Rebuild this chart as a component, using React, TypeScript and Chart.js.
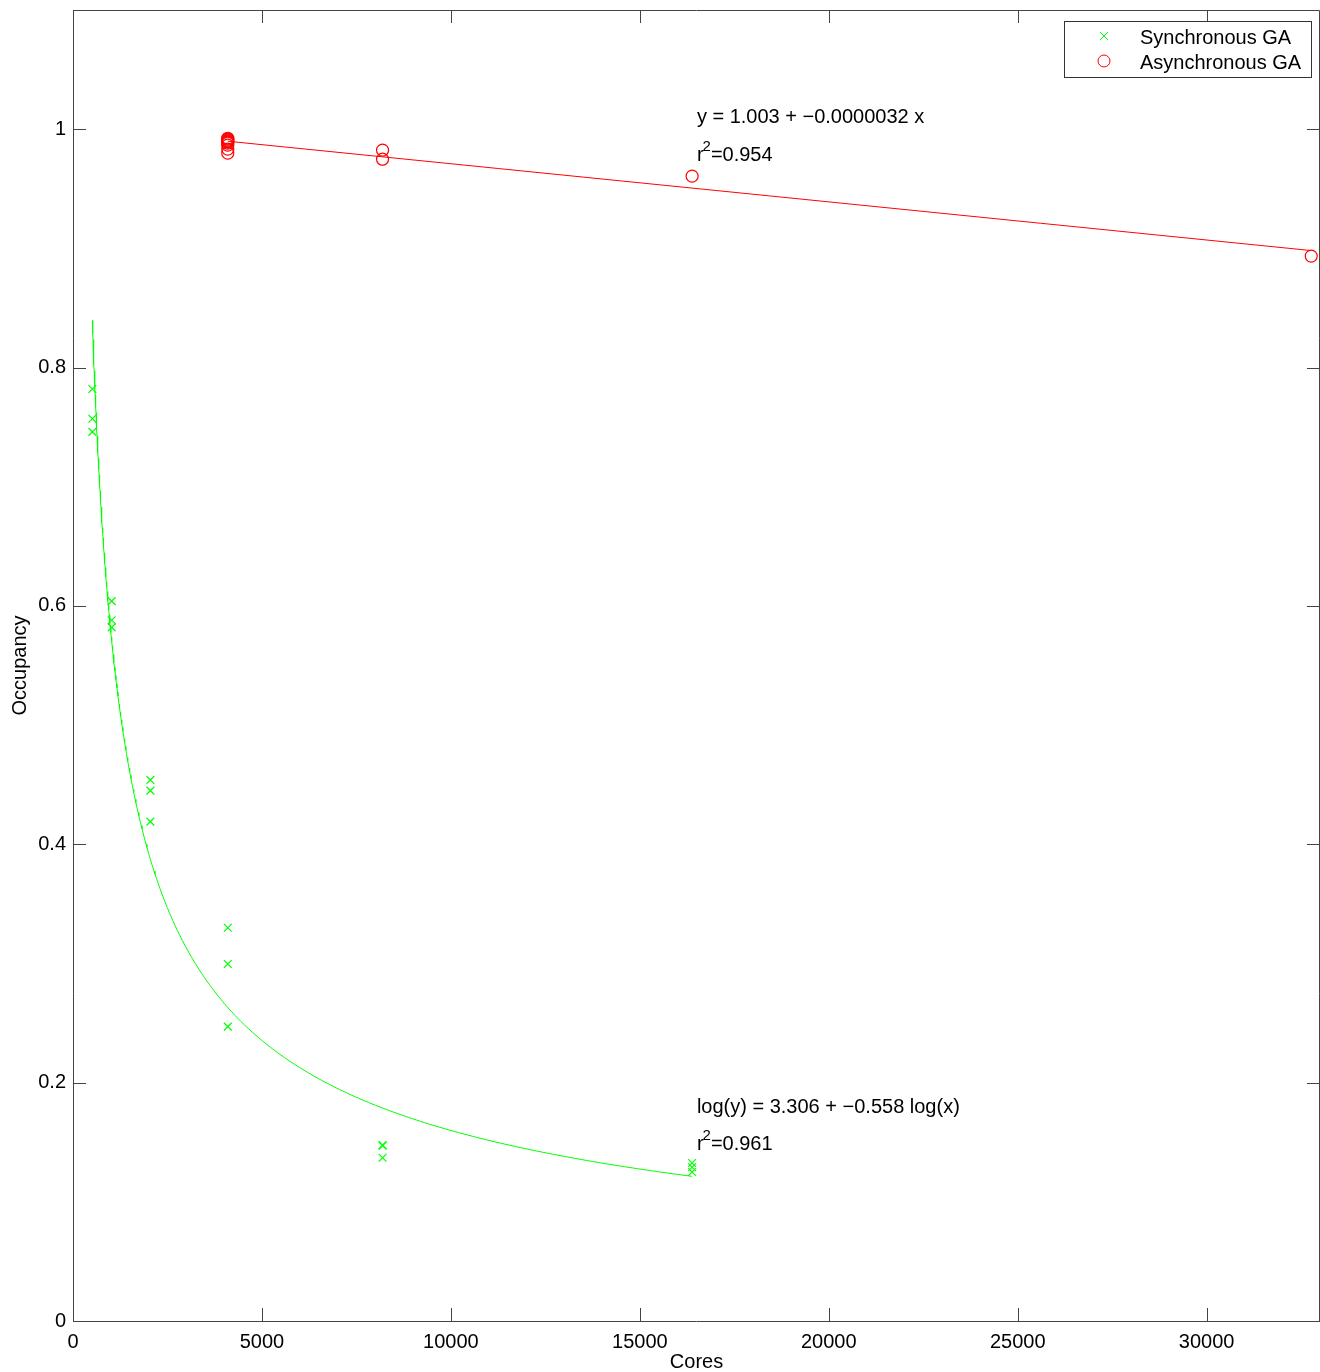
import React, { useEffect, useRef } from "react";
import { Chart, registerables } from "chart.js";

Chart.register(...registerables);

// ---- Data ----
const syncCores = [512, 512, 512, 1024, 1024, 1024, 2048, 2048, 2048, 4096, 4096, 4096, 8192, 8192, 8192, 16384, 16384, 16384];
const syncOccupancy = [0.782, 0.757, 0.746, 0.604, 0.588, 0.582, 0.454, 0.445, 0.419, 0.33, 0.2995, 0.247, 0.1477, 0.147, 0.137, 0.1326, 0.129, 0.125];

const asyncCores = [4096, 4096, 4096, 4096, 4096, 4096, 4096, 4096, 4096, 8192, 8192, 16384, 32768];
const asyncOccupancy = [0.9924, 0.9916, 0.9908, 0.9899, 0.9891, 0.9883, 0.9866, 0.9832, 0.9799, 0.9824, 0.9748, 0.9606, 0.8935];

// Fits printed on the chart
const syncFit = { a: 3.306, b: -0.558, xFrom: 512, xTo: 16384 }; // log(y) = a + b log(x)
const asyncFit = { a: 1.003, b: -0.0000032, xFrom: 4096, xTo: 32768 }; // y = a + b x

const xTicks = [0, 5000, 10000, 15000, 20000, 25000, 30000];
const yTicks = [0, 0.2, 0.4, 0.6, 0.8, 1];
const xMax = 33000;
const yMax = 1.1;

const seriesNames = ["Synchronous GA", "Asynchronous GA"];
const fitTexts = [
  { eq: "y = 1.003 + \u22120.0000032 x", r2: "=0.954", xAt: 16510, yEq: 1.01, yR2: 0.978 },
  { eq: "log(y) = 3.306 + \u22120.558 log(x)", r2: "=0.961", xAt: 16510, yEq: 0.1795, yR2: 0.148 },
];

const GREEN = "#00ff00";
const RED = "#ff0000";
const FONT = "'Liberation Sans', Arial, Helvetica, sans-serif";
const FS = 20;

function buildSyncCurve() {
  const pts: { x: number; y: number }[] = [];
  const n = 300;
  for (let i = 0; i <= n; i++) {
    const lx = Math.log(syncFit.xFrom) + (Math.log(syncFit.xTo) - Math.log(syncFit.xFrom)) * (i / n);
    const x = Math.exp(lx);
    pts.push({ x, y: Math.exp(syncFit.a + syncFit.b * Math.log(x)) });
  }
  return pts;
}

function buildAsyncLine() {
  return [asyncFit.xFrom, asyncFit.xTo].map((x) => ({ x, y: asyncFit.a + asyncFit.b * x }));
}

function zeroPad(s: any) {
  s.paddingLeft = 0;
  s.paddingRight = 0;
  s.paddingTop = 0;
  s.paddingBottom = 0;
}

const framePlugin = {
  id: "framePlugin",
  afterDraw(chart: any) {
    const { ctx, chartArea } = chart;
    const { left, right, top, bottom } = chartArea;
    const xs = chart.scales.x;
    const ys = chart.scales.y;
    ctx.save();
    // box
    ctx.strokeStyle = "#444";
    ctx.lineWidth = 1;
    ctx.beginPath();
    ctx.rect(Math.round(left) + 0.5, Math.round(top) + 0.5, Math.round(right - left) - 1, Math.round(bottom - top));
    ctx.stroke();
    // ticks inward
    const tl = 13;
    ctx.beginPath();
    xTicks.forEach((v) => {
      const px = Math.round(xs.getPixelForValue(v)) + 0.5;
      ctx.moveTo(px, bottom);
      ctx.lineTo(px, bottom - tl);
      ctx.moveTo(px, top);
      ctx.lineTo(px, top + tl);
    });
    yTicks.forEach((v) => {
      const py = Math.round(ys.getPixelForValue(v)) + 0.5;
      ctx.moveTo(left, py);
      ctx.lineTo(left + tl, py);
      ctx.moveTo(right, py);
      ctx.lineTo(right - tl, py);
    });
    ctx.stroke();

    // annotations
    ctx.fillStyle = "#000";
    ctx.textBaseline = "middle";
    ctx.textAlign = "left";
    fitTexts.forEach((t) => {
      const x = xs.getPixelForValue(t.xAt);
      ctx.font = `${FS}px ${FONT}`;
      ctx.fillText(t.eq, x, ys.getPixelForValue(t.yEq));
      const yr = ys.getPixelForValue(t.yR2);
      ctx.fillText("r", x, yr);
      const rw = ctx.measureText("r").width;
      ctx.font = `15px ${FONT}`;
      ctx.fillText("2", x + rw - 1, yr - 9);
      const sw = ctx.measureText("2").width;
      ctx.font = `${FS}px ${FONT}`;
      ctx.fillText(t.r2, x + rw + sw - 1, yr);
    });

    // legend
    const lx = 1064, ly = 21, lw = 247, lh = 56;
    ctx.fillStyle = "#fff";
    ctx.fillRect(lx, ly, lw, lh);
    ctx.strokeStyle = "#333";
    ctx.strokeRect(lx + 0.5, ly + 0.5, lw, lh);
    ctx.strokeStyle = GREEN;
    ctx.lineWidth = 1;
    const mx = 1104;
    const m1 = 36, m2 = 61;
    ctx.beginPath();
    ctx.moveTo(mx - 4, m1 - 4);
    ctx.lineTo(mx + 4, m1 + 4);
    ctx.moveTo(mx + 4, m1 - 4);
    ctx.lineTo(mx - 4, m1 + 4);
    ctx.stroke();
    ctx.strokeStyle = RED;
    ctx.beginPath();
    ctx.arc(mx, m2, 6, 0, Math.PI * 2);
    ctx.stroke();
    ctx.fillStyle = "#000";
    ctx.font = `${FS}px ${FONT}`;
    ctx.fillText(seriesNames[0], 1140, 38);
    ctx.fillText(seriesNames[1], 1140, 63);
    ctx.restore();
  },
};

export default function App() {
  const ref = useRef<HTMLCanvasElement | null>(null);
  useEffect(() => {
    document.body.style.margin = "0";
    const canvas = ref.current;
    if (!canvas) return;
    const chart = new Chart(canvas, {
      type: "scatter",
      data: {
        datasets: [
          {
            label: "sync fit",
            data: buildSyncCurve(),
            showLine: true,
            borderColor: GREEN,
            borderWidth: 1,
            pointRadius: 0,
            fill: false,
          },
          {
            label: "async fit",
            data: buildAsyncLine(),
            showLine: true,
            borderColor: RED,
            borderWidth: 1,
            pointRadius: 0,
            fill: false,
          },
          {
            label: seriesNames[0],
            data: syncCores.map((x, i) => ({ x, y: syncOccupancy[i] })),
            pointStyle: "crossRot",
            pointRadius: 5.5,
            pointBorderColor: GREEN,
            pointBorderWidth: 1.2,
            backgroundColor: GREEN,
            borderColor: GREEN,
          },
          {
            label: seriesNames[1],
            data: asyncCores.map((x, i) => ({ x, y: asyncOccupancy[i] })),
            pointStyle: "circle",
            pointRadius: 6,
            pointBorderColor: RED,
            pointBorderWidth: 1.2,
            pointBackgroundColor: "rgba(0,0,0,0)",
            borderColor: RED,
          },
        ],
      },
      options: {
        responsive: false,
        animation: false,
        events: [],
        layout: { autoPadding: false, padding: { top: 10, right: 0, left: 0, bottom: 0 } },
        plugins: { legend: { display: false }, tooltip: { enabled: false } },
        scales: {
          x: {
            type: "linear",
            min: 0,
            max: xMax,
            grid: { display: false, drawTicks: false },
            border: { display: false },
            afterBuildTicks: (s: any) => {
              s.ticks = xTicks.map((v) => ({ value: v }));
            },
            afterFit: (s: any) => {
              s.height = 51;
              zeroPad(s);
            },
            ticks: {
              padding: 9,
              color: "#000",
              font: { family: FONT, size: FS },
              maxRotation: 0,
              autoSkip: false,
              callback: (v: any) => String(v),
            },
            title: {
              display: true,
              text: "Cores",
              color: "#000",
              font: { family: FONT, size: FS },
              padding: { top: 0, bottom: -2 },
            },
          },
          y: {
            type: "linear",
            min: 0,
            max: yMax,
            grid: { display: false, drawTicks: false },
            border: { display: false },
            afterBuildTicks: (s: any) => {
              s.ticks = yTicks.map((v) => ({ value: v }));
            },
            afterFit: (s: any) => {
              s.width = 73;
              zeroPad(s);
            },
            ticks: {
              padding: 7,
              color: "#000",
              font: { family: FONT, size: FS },
              autoSkip: false,
              callback: (v: any) => String(Math.round(v * 10) / 10),
            },
            title: {
              display: true,
              text: "Occupancy",
              color: "#000",
              font: { family: FONT, size: FS },
              padding: { top: 8, bottom: 0 },
            },
          },
        },
      },
      plugins: [framePlugin],
    });
    return () => chart.destroy();
  }, []);
  return (
    <div style={{ width: 1320, height: 1372, position: "relative" }}>
      <canvas ref={ref} width={1320} height={1372} style={{ display: "block" }} />
    </div>
  );
}
